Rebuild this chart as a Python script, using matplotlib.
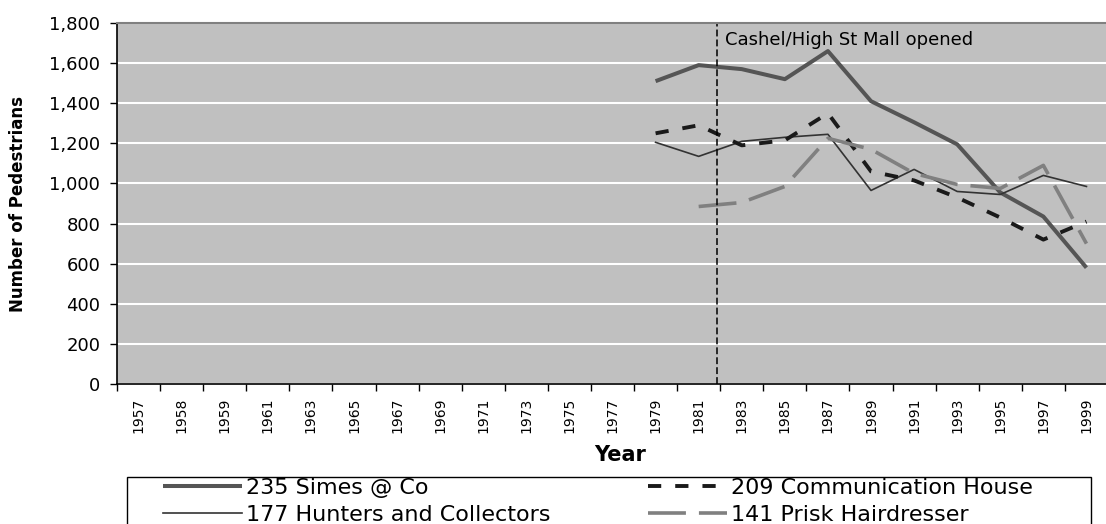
import numpy as np
import matplotlib
matplotlib.use("Agg")
import matplotlib.pyplot as plt
from matplotlib.patches import Rectangle
from matplotlib.ticker import FuncFormatter, FixedLocator

# Pedestrian counts per survey year
years = ["1957", "1958", "1959", "1961", "1963", "1965", "1967", "1969", "1971",
         "1973", "1975", "1977", "1979", "1981", "1983", "1985", "1987", "1989",
         "1991", "1993", "1995", "1997", "1999"]
nan = np.nan
simes = [nan] * 12 + [1510, 1590, 1570, 1520, 1660, 1410, 1305, 1195, 955, 835, 580]
hunters = [nan] * 12 + [1205, 1135, 1210, 1230, 1245, 965, 1070, 960, 945, 1040, 985]
communication = [nan] * 12 + [1250, 1290, 1190, 1215, 1350, 1060, 1015, 930, 830, 720, 810]
prisk = [nan] * 13 + [885, 905, 985, 1225, 1170, 1050, 995, 975, 1090, 700]

mall_opened = 13.42  # between 1981 and 1983
mall_label = "Cashel/High St Mall opened"

W, H = 1106, 524
fig = plt.figure(figsize=(W / 100, H / 100), dpi=100)
ax = fig.add_axes([117 / W, 1 - 384 / H, 991 / W, 361 / H])
ax.set_facecolor("#c0c0c0")

x = np.arange(len(years))
l1, = ax.plot(x, simes, color="#555555", lw=2.9, solid_capstyle="butt",
              label="235 Simes @ Co")
l2, = ax.plot(x, hunters, color="#333333", lw=1.2, label="177 Hunters and Collectors")
l3, = ax.plot(x, communication, color="#1a1a1a", lw=2.8, dashes=(3.4, 3.6),
              dash_capstyle="butt", label="209 Communication House")
l4, = ax.plot(x, prisk, color="#808080", lw=2.6, dashes=(10.5, 3.6),
              dash_capstyle="butt", label="141 Prisk Hairdresser")

ax.axvline(mall_opened, color="black", lw=1.1, dashes=(4.5, 2))
ax.text(mall_opened + 0.19, 1716, mall_label, fontsize=13, ha="left", va="center")

ax.set_xlim(-0.5, len(years) - 0.5)
ax.set_ylim(0, 1800)
ax.set_yticks(np.arange(0, 1801, 200))
ax.yaxis.set_major_formatter(FuncFormatter(lambda v, p: f"{v:,.0f}"))
ax.grid(axis="y", color="white", lw=1.5)
ax.set_axisbelow(True)

# category ticks sit between the years, labels at the centres
ax.xaxis.set_major_locator(FixedLocator(np.arange(-0.5, len(years), 1.0)))
ax.xaxis.set_major_formatter(FuncFormatter(lambda v, p: ""))
ax.set_xticks(x, years, minor=True, rotation=90, fontsize=10)
ax.tick_params(axis="x", which="minor", length=0, pad=10)
ax.tick_params(axis="x", which="major", length=5, width=1, direction="out")
ax.tick_params(axis="y", length=5, width=1, labelsize=13, pad=7)

for side in ["left", "bottom"]:
    ax.spines[side].set_color("black")
    ax.spines[side].set_linewidth(1.2)
for side in ["top", "right"]:
    ax.spines[side].set_color("#808080")
    ax.spines[side].set_linewidth(1.5)

ax.set_ylabel("Number of Pedestrians", fontsize=12, fontweight="bold", va="center")
ax.yaxis.set_label_coords((18 - 117) / 991, 0.5)
ax.set_xlabel("Year", fontsize=15, fontweight="bold", va="center")
ax.xaxis.set_label_coords((620 - 117) / 991, (384 - 455) / 361)

# legend box runs off the bottom edge
fig.patches.append(Rectangle((127 / W, -0.1), (1091 - 127) / W, 0.1 + 1 - 477 / H,
                             transform=fig.transFigure, facecolor="white",
                             edgecolor="black", lw=1.0, zorder=0))
leg = fig.legend(handles=[l1, l2, l3, l4], ncol=2, loc="upper left",
                 bbox_to_anchor=(163 / W, 1 - 478 / H), fontsize=16,
                 frameon=False, handlelength=3.55, handletextpad=0.18,
                 columnspacing=4.4, borderpad=0, labelspacing=0.3, borderaxespad=0)

fig.savefig("out.png", dpi=100)
